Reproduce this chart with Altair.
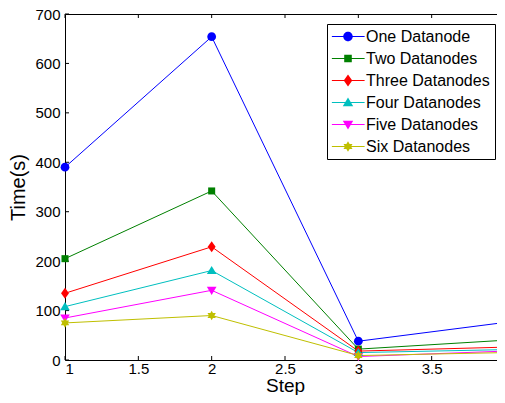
import altair as alt
import pandas as pd

steps = [1, 2, 3, 4]
series_names = ["One Datanode", "Two Datanodes", "Three Datanodes",
                "Four Datanodes", "Five Datanodes", "Six Datanodes"]
one_dn = [390, 654, 38, 76]
two_dn = [205, 342, 22, 40]
three_dn = [135, 229, 18, 26]
four_dn = [108, 181, 15, 21]
five_dn = [85, 141, 7, 18]
six_dn = [75, 90, 9, 15]
colors = ["#0000ff", "#008000", "#ff0000", "#00bfbf", "#ff00ff", "#bfbf00"]
x_ticks = [1, 1.5, 2, 2.5, 3, 3.5, 4]
y_ticks = [0, 100, 200, 300, 400, 500, 600, 700]

# marker outlines (unit box -1..1)
marker_paths = [
    "M-1,0A1,1 0 1,1 1,0A1,1 0 1,1 -1,0Z",
    "M-0.8,-0.8H0.8V0.8H-0.8Z",
    "M0,-1.25L0.9,0L0,1.25L-0.9,0Z",
    "M0,-1.05L1.1,0.8L-1.1,0.8Z",
    "M0,1.05L-1.1,-0.8L1.1,-0.8Z",
    "M0,-1.1L0.95,0.55L-0.95,0.55Z M0,1.1L-0.95,-0.55L0.95,-0.55Z",
]
seg = "M-3.4,-0.1H-0.3V0.1H-3.4Z M0.3,-0.1H3.5V0.1H0.3Z "
legend_paths = [seg + p for p in marker_paths]

values = [one_dn, two_dn, three_dn, four_dn, five_dn, six_dn]
rows = []
for name, vals in zip(series_names, values):
    for s, v in zip(steps, vals):
        rows.append({"series": name, "step": s, "time": v})
df = pd.DataFrame(rows)

FONT = "Liberation Sans"
W, H = 440, 346

xscale = alt.Scale(domain=[1, 4], nice=False, zero=False)
yscale = alt.Scale(domain=[0, 700], nice=False, zero=True)
cscale = alt.Scale(domain=series_names, range=colors)

x_enc = alt.X("step:Q", scale=xscale,
              axis=alt.Axis(values=x_ticks, format="~g", title="Step",
                            labelPadding=1, tickSize=0, titleFontSize=19,
                            titleBaseline="bottom", titleY=35))
y_enc = alt.Y("time:Q", scale=yscale,
              axis=alt.Axis(values=y_ticks, title="Time(s)",
                            labelPadding=5, titlePadding=6, tickSize=0))

legend = alt.Legend(title=None, orient="top-right", offset=10,
                    fillColor="white", strokeColor="black", padding=4.5,
                    labelFont=FONT, labelFontSize=16, labelColor="black",
                    labelExpr="datum.label + ' '",
                    symbolSize=90, symbolOpacity=1, symbolStrokeWidth=0,
                    rowPadding=6, symbolOffset=8.5, labelOffset=10,
                    cornerRadius=0)

xt_df = pd.DataFrame({"step": x_ticks})
yt_df = pd.DataFrame({"time": y_ticks})

tick_b = alt.Chart(xt_df).mark_rule(color="black", strokeWidth=1).encode(
    x=alt.X("step:Q", scale=xscale), y=alt.value(H), y2=alt.value(H - 4))
tick_t = alt.Chart(xt_df).mark_rule(color="black", strokeWidth=1).encode(
    x=alt.X("step:Q", scale=xscale), y=alt.value(0), y2=alt.value(4))
tick_l = alt.Chart(yt_df).mark_rule(color="black", strokeWidth=1).encode(
    y=alt.Y("time:Q", scale=yscale), x=alt.value(0), x2=alt.value(4))
tick_r = alt.Chart(yt_df).mark_rule(color="black", strokeWidth=1).encode(
    y=alt.Y("time:Q", scale=yscale), x=alt.value(W), x2=alt.value(W - 4))

lines = alt.Chart(df).mark_line(strokeWidth=1).encode(
    x=x_enc, y=y_enc,
    color=alt.Color("series:N", scale=cscale, legend=None),
    order="step:Q")

points = alt.Chart(df).mark_point(filled=True, size=77, opacity=1).encode(
    x=alt.X("step:Q", scale=xscale), y=alt.Y("time:Q", scale=yscale),
    color=alt.Color("series:N", scale=cscale, legend=None),
    shape=alt.Shape("series:N",
                    scale=alt.Scale(domain=series_names, range=marker_paths),
                    legend=None))

leg = alt.Chart(df).mark_point(filled=True, size=90, opacity=0).encode(
    x=alt.X("step:Q", scale=xscale), y=alt.Y("time:Q", scale=yscale),
    color=alt.Color("series:N", scale=cscale, legend=legend),
    shape=alt.Shape("series:N",
                    scale=alt.Scale(domain=series_names, range=legend_paths),
                    legend=legend))

chart = alt.layer(lines, tick_b, tick_t, tick_l, tick_r, points, leg).resolve_scale(
    color="independent", shape="independent"
).properties(
    width=W, height=H,
    autosize=alt.AutoSizeParams(type="none"),
    padding={"left": 57, "top": 6, "right": -8, "bottom": 35},
    background="white",
).configure_view(
    stroke="black", strokeWidth=1
).configure_axis(
    domain=False, grid=False, ticks=False,
    labelFont=FONT, labelFontSize=15, labelColor="black",
    titleFont=FONT, titleFontSize=20, titleColor="black",
    titleFontWeight="normal",
)

chart.save("out.html", embed_options={"renderer": "svg", "actions": False})
